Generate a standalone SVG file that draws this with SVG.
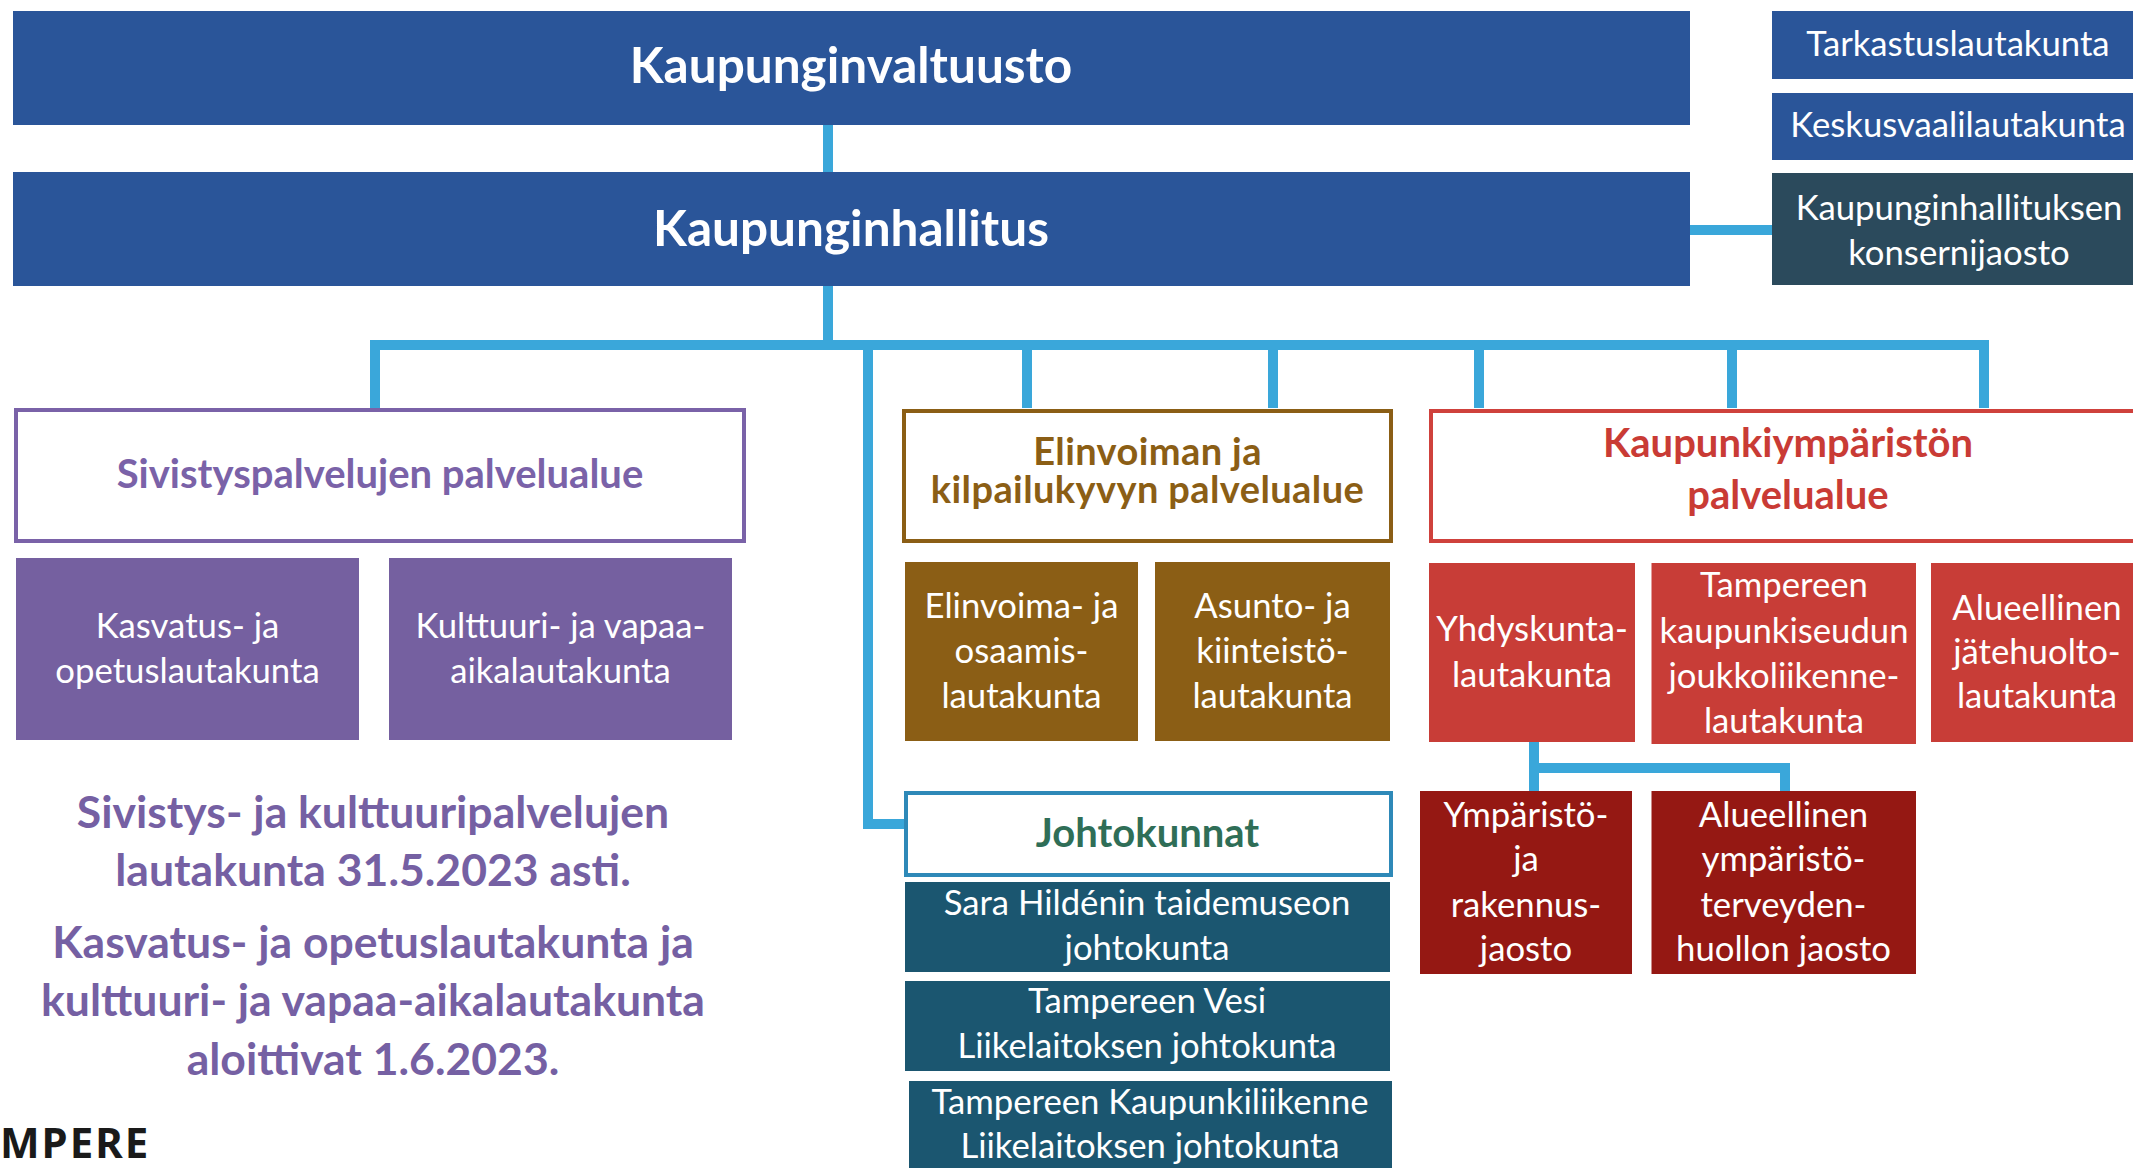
<svg xmlns="http://www.w3.org/2000/svg" width="2133" height="1168" viewBox="0 0 2133 1168">
<style>
text{font-family:Lato,"Liberation Sans",sans-serif;text-anchor:middle}
.w{fill:#ffffff;font-size:34.7px}
.big{fill:#ffffff;font-size:49.5px;font-weight:700}
.hd{font-size:40px;font-weight:700}
.note{fill:#7560a3;font-size:44.5px;font-weight:700}
.blue{fill:#2a5599}
.slate{fill:#2b4a5c}
.purple{fill:#7560a0}
.brown{fill:#8b5e15}
.red{fill:#c83d37}
.dred{fill:#951813}
.teal{fill:#1b5670}
.conn{fill:none;stroke:#3aa7da;stroke-width:10;stroke-linejoin:miter;stroke-linecap:butt}
</style>
<rect width="2133" height="1168" fill="#ffffff"/>
<g id="connectors">
<path class="conn" d="M828,125 V172"/>
<path class="conn" d="M828,286 V345"/>
<path class="conn" d="M1690,230 H1772"/>
<path class="conn" d="M375,408 V345 H1984 V408"/>
<path class="conn" d="M1027,345 V408"/>
<path class="conn" d="M1273,345 V408"/>
<path class="conn" d="M1479,345 V408"/>
<path class="conn" d="M1732,345 V408"/>
<path class="conn" d="M868,345 V824 H904"/>
<path class="conn" d="M1534,742 V768 H1785 V791"/>
<path class="conn" d="M1534,768 V791"/>
</g>
<g id="kaupunginvaltuusto">
<rect class="blue" x="13" y="11" width="1677" height="114"/>
<text class="big" x="851" y="83">Kaupunginvaltuusto</text>
</g>
<g id="kaupunginhallitus">
<rect class="blue" x="13" y="172" width="1677" height="114"/>
<text class="big" x="851" y="246">Kaupunginhallitus</text>
</g>
<g id="tarkastuslautakunta">
<rect class="blue" x="1772" y="11" width="372" height="68"/>
<text class="w" x="1958" y="56">Tarkastuslautakunta</text>
</g>
<g id="keskusvaalilautakunta">
<rect class="blue" x="1772" y="93" width="372" height="67"/>
<text class="w" x="1958" y="137">Keskusvaalilautakunta</text>
</g>
<g id="konsernijaosto">
<rect class="slate" x="1772" y="173" width="372" height="112"/>
<text class="w" x="1959" y="220">Kaupunginhallituksen</text>
<text class="w" x="1959" y="265">konsernijaosto</text>
</g>
<g id="sivistys">
<rect x="16" y="410" width="728" height="131" fill="#ffffff" stroke="#7a62a8" stroke-width="4"/>
<text class="hd" x="380" y="488" fill="#7a62a8">Sivistyspalvelujen palvelualue</text>
</g>
<g id="kasvatus">
<rect class="purple" x="16" y="558" width="343" height="182"/>
<text class="w" x="187.5" y="638">Kasvatus- ja</text>
<text class="w" x="187.5" y="683">opetuslautakunta</text>
</g>
<g id="kulttuuri">
<rect class="purple" x="389" y="558" width="343" height="182"/>
<text class="w" x="560.5" y="638">Kulttuuri- ja vapaa-</text>
<text class="w" x="560.5" y="683">aikalautakunta</text>
</g>
<g id="elinvoima">
<rect x="904" y="411" width="487" height="130" fill="#ffffff" stroke="#8b5e15" stroke-width="4"/>
<text class="hd" fill="#8b5e15" style="font-size:38px;letter-spacing:0.4px"><tspan x="1147.5" y="465">Elinvoiman ja</tspan><tspan x="1147.5" y="503">kilpailukyvyn palvelualue</tspan></text>
</g>
<g id="elinvoima-osaamis">
<rect class="brown" x="905" y="562" width="233" height="179"/>
<text class="w" x="1021.5" y="618">Elinvoima- ja</text>
<text class="w" x="1021.5" y="663">osaamis-</text>
<text class="w" x="1021.5" y="708">lautakunta</text>
</g>
<g id="asunto">
<rect class="brown" x="1155" y="562" width="235" height="179"/>
<text class="w" x="1272.5" y="618">Asunto- ja</text>
<text class="w" x="1272.5" y="663">kiinteistö-</text>
<text class="w" x="1272.5" y="708">lautakunta</text>
</g>
<g id="kaupunkiymparisto">
<rect x="1431" y="411" width="720" height="130" fill="#ffffff" stroke="#cf413c" stroke-width="4"/>
<text class="hd" x="1788" y="457" fill="#c93b35">Kaupunkiympäristön</text>
<text class="hd" x="1788" y="509" fill="#c93b35">palvelualue</text>
</g>
<g id="yhdyskunta">
<rect class="red" x="1429" y="563" width="206" height="179"/>
<text class="w" x="1532" y="641">Yhdyskunta-</text>
<text class="w" x="1532" y="687">lautakunta</text>
</g>
<g id="joukkoliikenne">
<rect class="red" x="1651.5" y="563" width="264.5" height="181"/>
<text class="w" x="1784" y="597">Tampereen</text>
<text class="w" x="1784" y="643">kaupunkiseudun</text>
<text class="w" x="1784" y="688">joukkoliikenne-</text>
<text class="w" x="1784" y="733">lautakunta</text>
</g>
<g id="jatehuolto">
<rect class="red" x="1931" y="563" width="212" height="179"/>
<text class="w" x="2037" y="620">Alueellinen</text>
<text class="w" x="2037" y="664">jätehuolto-</text>
<text class="w" x="2037" y="708">lautakunta</text>
</g>
<g id="ymparisto-rakennus">
<rect class="dred" x="1420" y="791" width="212" height="183"/>
<text class="w" x="1526" y="827">Ympäristö-</text>
<text class="w" x="1526" y="871">ja</text>
<text class="w" x="1526" y="917">rakennus-</text>
<text class="w" x="1526" y="961">jaosto</text>
</g>
<g id="ymparistoterveydenhuolto">
<rect class="dred" x="1651.5" y="791" width="264.5" height="183"/>
<text class="w" x="1783.5" y="827">Alueellinen</text>
<text class="w" x="1783.5" y="871">ympäristö-</text>
<text class="w" x="1783.5" y="917">terveyden-</text>
<text class="w" x="1783.5" y="961">huollon jaosto</text>
</g>
<g id="johtokunnat">
<rect x="906" y="793" width="485" height="82" fill="#ffffff" stroke="#2e89b8" stroke-width="4"/>
<text class="hd" x="1147.5" y="847" fill="#2f6e57">Johtokunnat</text>
</g>
<g id="sara-hilden">
<rect class="teal" x="905" y="882" width="485" height="90"/>
<text class="w" x="1147" y="915">Sara Hildénin taidemuseon</text>
<text class="w" x="1147" y="960">johtokunta</text>
</g>
<g id="tampereen-vesi">
<rect class="teal" x="905" y="981" width="485" height="90"/>
<text class="w" x="1147" y="1013">Tampereen Vesi</text>
<text class="w" x="1147" y="1058">Liikelaitoksen johtokunta</text>
</g>
<g id="kaupunkiliikenne">
<rect class="teal" x="909" y="1081" width="483" height="100"/>
<text class="w" x="1150" y="1114">Tampereen Kaupunkiliikenne</text>
<text class="w" x="1150" y="1158">Liikelaitoksen johtokunta</text>
</g>
<g id="note">
<text class="note" x="373" y="828">Sivistys- ja kulttuuripalvelujen</text>
<text class="note" x="373" y="886">lautakunta 31.5.2023 asti.</text>
<text class="note" x="373" y="958">Kasvatus- ja opetuslautakunta ja</text>
<text class="note" x="373" y="1016">kulttuuri- ja vapaa-aikalautakunta</text>
<text class="note" x="373" y="1075">aloittivat 1.6.2023.</text>
</g>
<g id="logo">
<text x="0" y="1158" style="text-anchor:start;font-family:'Noto Sans',sans-serif;font-weight:700;font-size:42px;letter-spacing:2px;fill:#1a1a1a">MPERE</text>
</g>
</svg>
